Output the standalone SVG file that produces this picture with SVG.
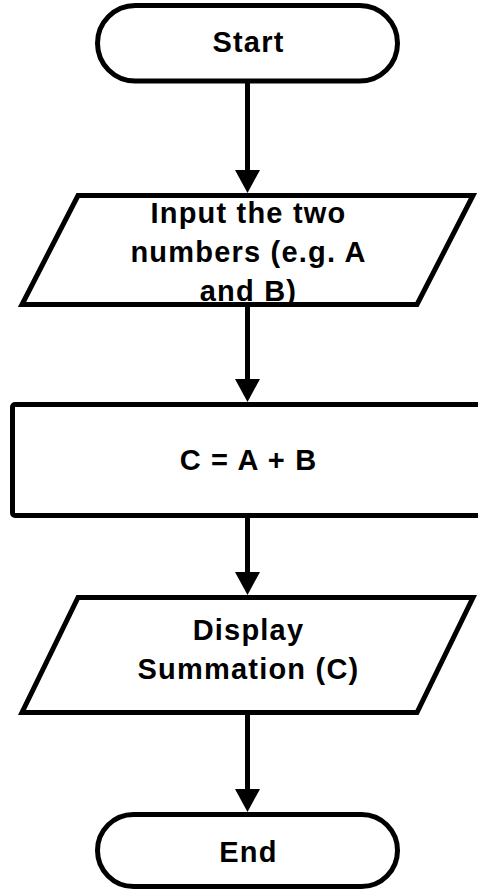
<svg xmlns="http://www.w3.org/2000/svg" width="478" height="890" viewBox="0 0 478 890">
  <style>
    .node { fill: #ffffff; stroke: #000000; stroke-width: 5; }
    .io { stroke-linejoin: miter; }
    .label { font-family: "Liberation Sans", Arial, Helvetica, sans-serif; font-weight: bold; font-size: 29px; letter-spacing: 1.2px; fill: #000000; text-anchor: middle; }
    .edge { fill: none; stroke: #000000; stroke-width: 5; }
  </style>
  <defs>
    <marker id="arrow" markerUnits="userSpaceOnUse" markerWidth="23" markerHeight="25" viewBox="0 0 23 25" refX="13" refY="12.5" orient="auto">
      <path d="M0,0 L23,12.5 L0,25 Z" fill="#000000"/>
    </marker>
  </defs>
  <rect width="478" height="890" fill="#ffffff"/>

  <g id="connectors">
    <path class="edge" d="M247.5,81 L247.5,183" marker-end="url(#arrow)"/>
    <path class="edge" d="M247.5,304.5 L247.5,392" marker-end="url(#arrow)"/>
    <path class="edge" d="M247.5,515.5 L247.5,585" marker-end="url(#arrow)"/>
    <path class="edge" d="M247.5,712.5 L247.5,802" marker-end="url(#arrow)"/>
  </g>

  <g id="start">
    <rect class="node" x="97.5" y="5.5" width="300" height="75.5" rx="37.75" ry="37.75"/>
    <text class="label" x="248.5" y="52">Start</text>
  </g>

  <g id="input">
    <polygon class="node io" points="78,195.5 473,195.5 417,304.5 22,304.5"/>
    <text class="label" x="248.5" y="223">Input the two</text>
    <text class="label" x="248.5" y="262">numbers (e.g. A</text>
    <text class="label" x="248.5" y="301">and B)</text>
  </g>

  <g id="process">
    <rect class="node" x="12.5" y="404.5" width="490" height="111" rx="2.5" ry="2.5"/>
    <text class="label" x="248.5" y="470">C = A + B</text>
  </g>

  <g id="output">
    <polygon class="node io" points="78,597.5 473,597.5 417,712.5 22,712.5"/>
    <text class="label" x="248.5" y="640">Display</text>
    <text class="label" x="248.5" y="679">Summation (C)</text>
  </g>

  <g id="end">
    <rect class="node" x="97.5" y="814.5" width="300" height="72" rx="36" ry="36"/>
    <text class="label" x="248.5" y="862">End</text>
  </g>
</svg>
